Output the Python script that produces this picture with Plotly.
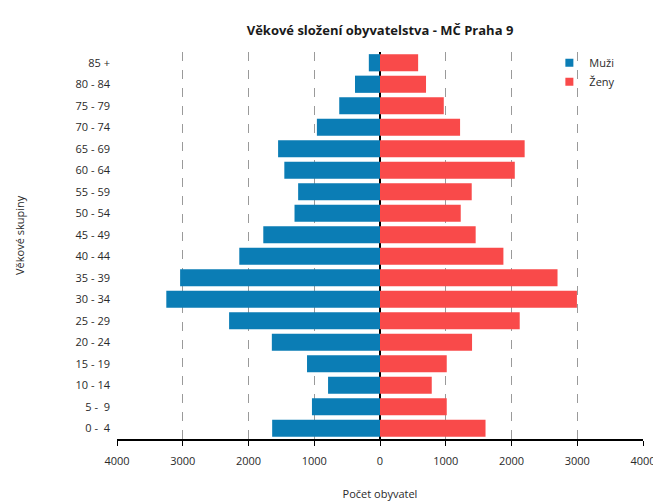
import plotly.graph_objects as go

age_groups = ["0 -  4", "5 -  9", "10 - 14", "15 - 19", "20 - 24", "25 - 29", "30 - 34",
              "35 - 39", "40 - 44", "45 - 49", "50 - 54", "55 - 59", "60 - 64", "65 - 69",
              "70 - 74", "75 - 79", "80 - 84", "85 +"]
muzi = [1640, 1035, 790, 1110, 1645, 2295, 3250, 3040, 2140, 1775, 1300, 1245, 1455, 1550,
        960, 620, 380, 170]
zeny = [1605, 1015, 787, 1015, 1400, 2125, 2995, 2700, 1877, 1455, 1228, 1395, 2050, 2200,
        1218, 970, 700, 580]
tick_vals = [-4000, -3000, -2000, -1000, 0, 1000, 2000, 3000, 4000]
tick_text = ["4000", "3000", "2000", "1000", "0", "1000", "2000", "3000", "4000"]

font_family = "Open Sans, Liberation Sans, sans-serif"
blue = "#0b7db5"
red = "#f94a4a"

# the page has an 8px body margin, so the figure is sized/offset to compensate
W, H = 653, 495
ML, MT, MR, MB = 109, 44, 18, 64
PW = W - ML - MR
PH = H - MT - MB

fig = go.Figure()
fig.add_trace(go.Bar(y=age_groups, x=[-v for v in muzi], orientation="h", name="Muži",
                     marker=dict(color=blue, line=dict(width=0)), showlegend=False))
fig.add_trace(go.Bar(y=age_groups, x=zeny, orientation="h", name="Ženy",
                     marker=dict(color=red, line=dict(width=0)), showlegend=False))
# legend entries with small square swatches
fig.add_trace(go.Scatter(x=[None], y=[None], mode="markers", name="Muži",
                         marker=dict(symbol="square", size=8, color=blue)))
fig.add_trace(go.Scatter(x=[None], y=[None], mode="markers", name="Ženy",
                         marker=dict(symbol="square", size=8, color=red)))

fig.update_layout(
    width=W, height=H,
    paper_bgcolor="white", plot_bgcolor="white",
    barmode="overlay", bargap=0.2,
    margin=dict(l=ML, r=MR, t=MT, b=MB, autoexpand=False),
    font=dict(family=font_family, size=11, color="#2a2a2a"),
    title=dict(text="<b>Věkové složení obyvatelstva - MČ Praha 9</b>",
               x=(380 - 8) / W, xanchor="center", y=1 - (30 - 8) / H, yanchor="middle",
               font=dict(size=13, color="#1a1a1a", family=font_family)),
    legend=dict(x=0.822, y=1.01, xanchor="left", yanchor="top",
                bgcolor="rgba(0,0,0,0)", font=dict(size=11, color="#2a2a2a"),
                tracegroupgap=0, itemwidth=30),
    showlegend=True,
    annotations=[dict(text="Věkové skupiny", x=(20 - 8 - ML) / PW, xref="paper",
                      y=(439 - 235) / PH, yref="paper",
                      showarrow=False, textangle=-90, font=dict(size=11, color="#2a2a2a"),
                      xanchor="center", yanchor="middle")],
)
fig.update_xaxes(
    range=[-4000, 4000], tickvals=tick_vals, ticktext=tick_text,
    showgrid=True, gridcolor="#9a9a9a", griddash="dash", gridwidth=1,
    zeroline=True, zerolinecolor="black", zerolinewidth=1.5,
    showline=True, linecolor="black", linewidth=1.5,
    ticks="outside", ticklen=5, tickcolor="black",
    tickfont=dict(size=11, color="#2a2a2a"), ticklabelstandoff=6,
    automargin=False,
    title=dict(text="Počet obyvatel", standoff=23, font=dict(size=11, color="#2a2a2a")),
)
fig.update_yaxes(
    categoryorder="array", categoryarray=age_groups,
    showgrid=False, showline=False, ticks="", automargin=False,
    tickfont=dict(size=11, color="#2a2a2a"), ticklabelstandoff=6,
)

fig.write_html("out.html")
